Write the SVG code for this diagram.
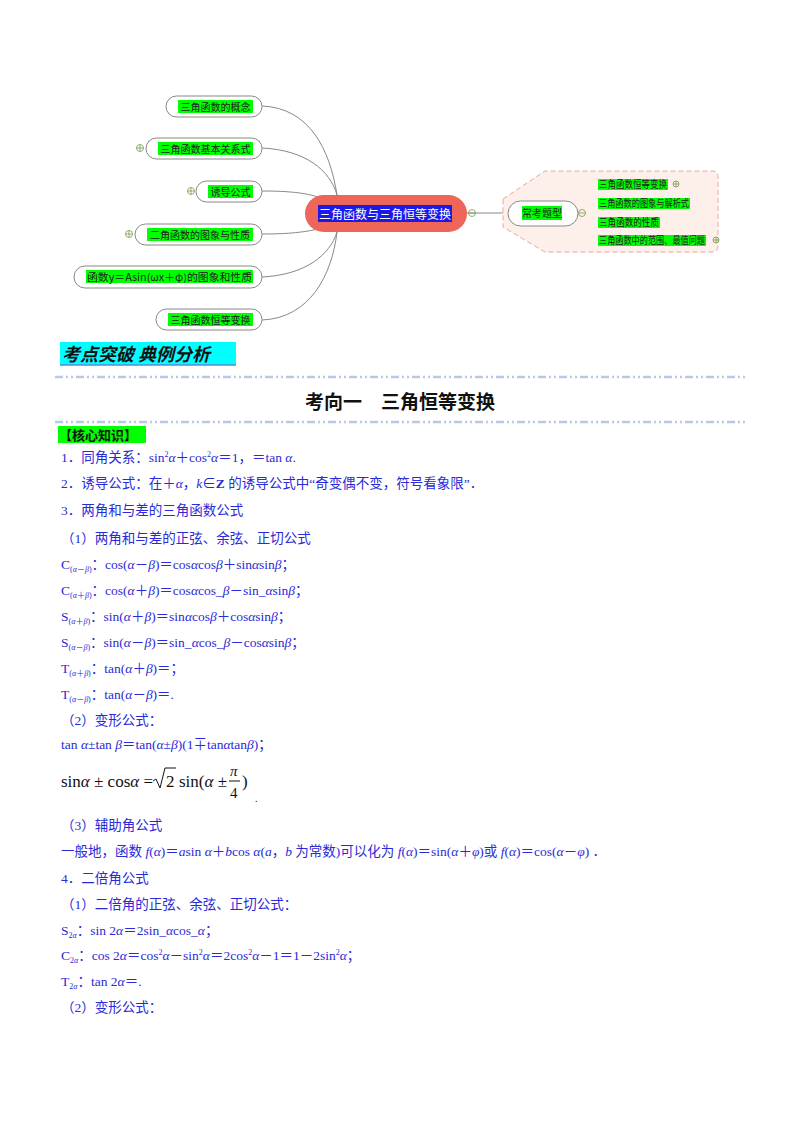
<svg xmlns="http://www.w3.org/2000/svg" width="800" height="1132" viewBox="0 0 800 1132">
<style>
.cjk{font-family:"Noto Sans CJK SC",sans-serif}
.nd{fill:#fff;stroke:#888;stroke-width:1}
.hl{fill:#00ff00}
.nt{font-family:"Noto Sans CJK SC",sans-serif;font-size:10px;fill:#222}
.conn{fill:none;stroke:#888;stroke-width:1}
.pl{fill:none;stroke:#7a9a50;stroke-width:0.8}
.b{font-family:"Liberation Serif","Noto Sans CJK SC",serif;font-size:13.5px;fill:#2a2ad8}
.i{font-style:italic}
.sub{font-size:8px}
.dash{stroke:#b8c8e6;stroke-width:2.5;stroke-dasharray:8 3 2 3 2 3}
</style>
<rect width="800" height="1132" fill="#fff"/>
<g id="connectors">
<path class="conn" d="M262,106 C310,108 330,150 337,195"/>
<path class="conn" d="M262,148 C305,150 330,170 337,195"/>
<path class="conn" d="M262,191 C290,191 305,193 318,197"/>
<path class="conn" d="M262,234 C290,234 305,232 318,229"/>
<path class="conn" d="M262,277 C305,275 330,255 337,232"/>
<path class="conn" d="M262,320 C310,318 332,275 337,232"/>
<path class="conn" d="M467,213 H508"/>
<path class="conn" d="M578,213 H586"/>
<path class="conn" d="M590,213 C592,196 594,190 600,190 H670"/>
<path class="conn" d="M590,213 C594,211 596,211 600,211 H696"/>
<path class="conn" d="M590,213 C592,226 594,230 600,230 H664"/>
<path class="conn" d="M590,213 C592,240 594,248 600,248 H708"/>
</g>
<g id="group-box"><path d="M503,199 L545,171 H712 Q718,171 718,177 V246 Q718,252 712,252 H545 L503,227 Z" fill="#fdefea" stroke="#e9a898" stroke-dasharray="5 3"/></g>
<g id="n1"><rect class="nd" x="166" y="96" width="96" height="21" rx="10.5"/><rect class="hl" x="178" y="100" width="75" height="13"/><text class="nt" x="215.5" y="110.5" text-anchor="middle">三角函数的概念</text></g>
<g id="n2"><rect class="nd" x="146" y="138" width="116" height="21" rx="10.5"/><rect class="hl" x="158" y="142" width="95" height="13"/><text class="nt" x="205.5" y="152.5" text-anchor="middle">三角函数基本关系式</text><circle class="pl" cx="140" cy="148" r="3.5"/><path class="pl" d="M136.5,148h7M140,144.5v7"/></g>
<g id="n3"><rect class="nd" x="196" y="181" width="66" height="21" rx="10.5"/><rect class="hl" x="208" y="185" width="45" height="13"/><text class="nt" x="230.5" y="195.5" text-anchor="middle">诱导公式</text><circle class="pl" cx="191" cy="191" r="3.5"/><path class="pl" d="M187.5,191h7M191,187.5v7"/></g>
<g id="n4"><rect class="nd" x="135" y="224" width="127" height="21" rx="10.5"/><rect class="hl" x="147" y="228" width="106" height="13"/><text class="nt" x="200" y="238.5" text-anchor="middle">二角函数的图象与性质</text><circle class="pl" cx="129" cy="234" r="3.5"/><path class="pl" d="M125.5,234h7M129,230.5v7"/></g>
<g id="n5"><rect class="nd" x="74" y="266" width="188" height="22" rx="11"/><rect class="hl" x="86" y="270" width="167" height="13"/><text class="nt" x="87" y="281" font-size="9.5" textLength="165" lengthAdjust="spacingAndGlyphs">函数y＝Asin(ωx＋φ)的图象和性质</text></g>
<g id="n6"><rect class="nd" x="156" y="309" width="106" height="21" rx="10.5"/><rect class="hl" x="168" y="313" width="85" height="13"/><text class="nt" x="210.5" y="323.5" text-anchor="middle">三角函数恒等变换</text></g>
<g id="center"><rect x="305" y="195" width="162" height="37" rx="18.5" fill="#ee6659"/><rect x="318" y="205" width="134" height="17" fill="#1a1ae8"/><text x="319" y="218.5" class="cjk" font-size="12.5" fill="#fff" textLength="132" lengthAdjust="spacingAndGlyphs">三角函数与三角恒等变换</text></g>
<circle cx="472" cy="213" r="3.5" class="pl"/><path class="pl" d="M468.5,213h7"/>
<g id="types"><rect class="nd" x="508" y="201" width="70" height="25" rx="12.5"/><rect class="hl" x="522" y="206" width="40" height="14"/><text class="nt" x="542" y="217" text-anchor="middle" font-size="10">常考题型</text><circle class="pl" cx="582" cy="213" r="3.5"/><path class="pl" d="M578.5,213h7"/></g>
<g id="t1"><rect class="hl" x="598" y="179" width="70" height="11"/><text class="nt" x="599" y="188" font-size="8.5" textLength="68" lengthAdjust="spacingAndGlyphs">三角函数恒等变换</text><circle class="pl" cx="676" cy="184" r="3"/><path class="pl" d="M673,184h6M676,181v6"/></g>
<g id="t2"><rect class="hl" x="598" y="198" width="92" height="11"/><text class="nt" x="599" y="207" font-size="8.5" textLength="90" lengthAdjust="spacingAndGlyphs">三角函数的图象与解析式</text></g>
<g id="t3"><rect class="hl" x="598" y="217" width="62" height="11"/><text class="nt" x="599" y="226" font-size="8.5" textLength="60" lengthAdjust="spacingAndGlyphs">三角函数的性质</text></g>
<g id="t4"><rect class="hl" x="598" y="235" width="108" height="11"/><text class="nt" x="599" y="244" font-size="8.5" textLength="106" lengthAdjust="spacingAndGlyphs">三角函数中的范围、最值问题</text><circle class="pl" cx="716" cy="240" r="3"/><path class="pl" d="M713,240h6M716,237v6"/></g>

<rect x="60" y="342" width="176" height="23" fill="#00ffff"/>
<line x1="60" y1="365" x2="236" y2="365" stroke="#5a8ad8" stroke-width="1.5"/>
<text x="62" y="361" class="cjk" font-size="18" font-weight="bold" font-style="italic" fill="#111">考点突破 典例分析</text>
<line class="dash" x1="55" y1="377" x2="745" y2="377"/>
<text x="400" y="409" text-anchor="middle" class="cjk" font-size="19" font-weight="bold" fill="#111">考向一　三角恒等变换</text>
<line class="dash" x1="55" y1="422" x2="745" y2="422"/>
<rect x="58" y="426" width="88" height="17" fill="#00ff00"/>
<text x="59" y="440" class="cjk" font-size="13" font-weight="bold" fill="#111">【核心知识】</text>

<text class="b" x="61" y="462">1．同角关系：sin<tspan dy="-5" class="sub">2</tspan><tspan dy="5" class="i">α</tspan>＋cos<tspan dy="-5" class="sub">2</tspan><tspan dy="5" class="i">α</tspan>＝1，＝tan <tspan class="i">α</tspan>.</text>
<text class="b" x="61" y="488">2．诱导公式：在＋<tspan class="i">α</tspan>，<tspan class="i">k</tspan>∈<tspan font-weight="bold">Z</tspan> 的诱导公式中“奇变偶不变，符号看象限”．</text>
<text class="b" x="61" y="515">3．两角和与差的三角函数公式</text>
<text class="b" x="61" y="543">（1）两角和与差的正弦、余弦、正切公式</text>
<text class="b" x="61" y="569">C<tspan class="sub" dy="3">(<tspan class="i">α</tspan>－<tspan class="i">β</tspan>)</tspan><tspan dy="-3">：cos(<tspan class="i">α</tspan>－<tspan class="i">β</tspan>)＝cos<tspan class="i">α</tspan>cos<tspan class="i">β</tspan>＋sin<tspan class="i">α</tspan>sin<tspan class="i">β</tspan>；</tspan></text>
<text class="b" x="61" y="595">C<tspan class="sub" dy="3">(<tspan class="i">α</tspan>＋<tspan class="i">β</tspan>)</tspan><tspan dy="-3">：cos(<tspan class="i">α</tspan>＋<tspan class="i">β</tspan>)＝cos<tspan class="i">α</tspan>cos_<tspan class="i">β</tspan>－sin_<tspan class="i">α</tspan>sin<tspan class="i">β</tspan>；</tspan></text>
<text class="b" x="61" y="621">S<tspan class="sub" dy="3">(<tspan class="i">α</tspan>＋<tspan class="i">β</tspan>)</tspan><tspan dy="-3">：sin(<tspan class="i">α</tspan>＋<tspan class="i">β</tspan>)＝sin<tspan class="i">α</tspan>cos<tspan class="i">β</tspan>＋cos<tspan class="i">α</tspan>sin<tspan class="i">β</tspan>；</tspan></text>
<text class="b" x="61" y="647">S<tspan class="sub" dy="3">(<tspan class="i">α</tspan>－<tspan class="i">β</tspan>)</tspan><tspan dy="-3">：sin(<tspan class="i">α</tspan>－<tspan class="i">β</tspan>)＝sin_<tspan class="i">α</tspan>cos_<tspan class="i">β</tspan>－cos<tspan class="i">α</tspan>sin<tspan class="i">β</tspan>；</tspan></text>
<text class="b" x="61" y="673">T<tspan class="sub" dy="3">(<tspan class="i">α</tspan>＋<tspan class="i">β</tspan>)</tspan><tspan dy="-3">：tan(<tspan class="i">α</tspan>＋<tspan class="i">β</tspan>)＝；</tspan></text>
<text class="b" x="61" y="699">T<tspan class="sub" dy="3">(<tspan class="i">α</tspan>－<tspan class="i">β</tspan>)</tspan><tspan dy="-3">：tan(<tspan class="i">α</tspan>－<tspan class="i">β</tspan>)＝.</tspan></text>
<text class="b" x="61" y="725">（2）变形公式：</text>
<text class="b" x="61" y="749">tan <tspan class="i">α</tspan>±tan <tspan class="i">β</tspan>＝tan(<tspan class="i">α</tspan>±<tspan class="i">β</tspan>)(1∓tan<tspan class="i">α</tspan>tan<tspan class="i">β</tspan>)；</text>
<g font-family="'Liberation Serif',serif" font-size="17" fill="#111">
<text x="61" y="787">sin<tspan class="i">α</tspan> ± cos<tspan class="i">α</tspan> =</text>
<path d="M153,781 l3,-2 l4,9 l5,-20 h11" fill="none" stroke="#111" stroke-width="1"/>
<text x="166" y="787">2</text>
<text x="179" y="787">sin(<tspan class="i">α</tspan> ±</text>
<text x="230" y="776" class="i" font-size="15">π</text>
<line x1="229" y1="781" x2="240" y2="781" stroke="#111" stroke-width="1"/>
<text x="230" y="798" font-size="15">4</text>
<text x="242" y="787">)</text>
<text x="255" y="802" font-size="10">.</text>
</g>
<text class="b" x="61" y="830">（3）辅助角公式</text>
<text class="b" x="61" y="856">一般地，函数 <tspan class="i">f</tspan>(<tspan class="i">α</tspan>)＝<tspan class="i">a</tspan>sin <tspan class="i">α</tspan>＋<tspan class="i">b</tspan>cos <tspan class="i">α</tspan>(<tspan class="i">a</tspan>，<tspan class="i">b</tspan> 为常数)可以化为 <tspan class="i">f</tspan>(<tspan class="i">α</tspan>)＝sin(<tspan class="i">α</tspan>＋<tspan class="i">φ</tspan>)或 <tspan class="i">f</tspan>(<tspan class="i">α</tspan>)＝cos(<tspan class="i">α</tspan>－<tspan class="i">φ</tspan>) ．</text>
<text class="b" x="61" y="883">4．二倍角公式</text>
<text class="b" x="61" y="909">（1）二倍角的正弦、余弦、正切公式：</text>
<text class="b" x="61" y="935">S<tspan class="sub" dy="3">2<tspan class="i">α</tspan></tspan><tspan dy="-3">：sin 2<tspan class="i">α</tspan>＝2sin_<tspan class="i">α</tspan>cos_<tspan class="i">α</tspan>；</tspan></text>
<text class="b" x="61" y="960">C<tspan class="sub" dy="3">2<tspan class="i">α</tspan></tspan><tspan dy="-3">：cos 2<tspan class="i">α</tspan>＝cos<tspan dy="-5" class="sub">2</tspan><tspan dy="5" class="i">α</tspan>－sin<tspan dy="-5" class="sub">2</tspan><tspan dy="5" class="i">α</tspan>＝2cos<tspan dy="-5" class="sub">2</tspan><tspan dy="5" class="i">α</tspan>－1＝1－2sin<tspan dy="-5" class="sub">2</tspan><tspan dy="5" class="i">α</tspan>；</tspan></text>
<text class="b" x="61" y="986">T<tspan class="sub" dy="3">2<tspan class="i">α</tspan></tspan><tspan dy="-3">：tan 2<tspan class="i">α</tspan>＝.</tspan></text>
<text class="b" x="61" y="1012">（2）变形公式：</text>
</svg>
